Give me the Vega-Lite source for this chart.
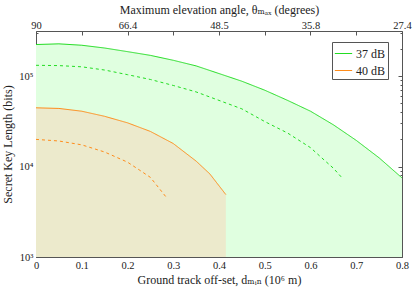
{
  "$schema": "https://vega.github.io/schema/vega-lite/v6.json",
  "width": 366,
  "height": 226,
  "autosize": "none",
  "padding": {"left": 36, "top": 31, "right": 13, "bottom": 36},
  "config": {
    "font": "Liberation Serif, DejaVu Serif, serif",
    "view": {"stroke": null},
    "axis": {
      "grid": false,
      "domainColor": "#555555",
      "tickColor": "#555555",
      "labelColor": "#222222",
      "titleColor": "#222222",
      "labelFont": "Liberation Serif, DejaVu Serif, serif",
      "titleFont": "Liberation Serif, DejaVu Serif, serif",
      "labelFontSize": 10.5,
      "titleFontSize": 12,
      "titleFontWeight": "normal"
    },
    "legend": {
      "labelFont": "Liberation Serif, DejaVu Serif, serif",
      "labelFontSize": 12,
      "labelColor": "#222222"
    }
  },
  "data": {
    "values": [
      {"snr": "37 dB", "kind": "solid", "x": 0, "y": 224000},
      {"snr": "37 dB", "kind": "solid", "x": 0.05, "y": 228000},
      {"snr": "37 dB", "kind": "solid", "x": 0.1, "y": 220000},
      {"snr": "37 dB", "kind": "solid", "x": 0.15, "y": 205000},
      {"snr": "37 dB", "kind": "solid", "x": 0.2, "y": 187000},
      {"snr": "37 dB", "kind": "solid", "x": 0.25, "y": 170000},
      {"snr": "37 dB", "kind": "solid", "x": 0.3, "y": 150000},
      {"snr": "37 dB", "kind": "solid", "x": 0.35, "y": 130000},
      {"snr": "37 dB", "kind": "solid", "x": 0.4, "y": 107000},
      {"snr": "37 dB", "kind": "solid", "x": 0.45, "y": 88000},
      {"snr": "37 dB", "kind": "solid", "x": 0.5, "y": 70000},
      {"snr": "37 dB", "kind": "solid", "x": 0.55, "y": 54000},
      {"snr": "37 dB", "kind": "solid", "x": 0.6, "y": 41000},
      {"snr": "37 dB", "kind": "solid", "x": 0.65, "y": 29000},
      {"snr": "37 dB", "kind": "solid", "x": 0.7, "y": 19500},
      {"snr": "37 dB", "kind": "solid", "x": 0.75, "y": 12500},
      {"snr": "37 dB", "kind": "solid", "x": 0.8, "y": 7500},
      {"snr": "37 dB", "kind": "dashed", "x": 0, "y": 132000},
      {"snr": "37 dB", "kind": "dashed", "x": 0.05, "y": 131000},
      {"snr": "37 dB", "kind": "dashed", "x": 0.1, "y": 127000},
      {"snr": "37 dB", "kind": "dashed", "x": 0.15, "y": 117000},
      {"snr": "37 dB", "kind": "dashed", "x": 0.2, "y": 104000},
      {"snr": "37 dB", "kind": "dashed", "x": 0.25, "y": 92000},
      {"snr": "37 dB", "kind": "dashed", "x": 0.3, "y": 79000},
      {"snr": "37 dB", "kind": "dashed", "x": 0.35, "y": 67000},
      {"snr": "37 dB", "kind": "dashed", "x": 0.4, "y": 54000},
      {"snr": "37 dB", "kind": "dashed", "x": 0.45, "y": 43500},
      {"snr": "37 dB", "kind": "dashed", "x": 0.5, "y": 31500},
      {"snr": "37 dB", "kind": "dashed", "x": 0.55, "y": 23500},
      {"snr": "37 dB", "kind": "dashed", "x": 0.6, "y": 16200},
      {"snr": "37 dB", "kind": "dashed", "x": 0.63, "y": 11800},
      {"snr": "37 dB", "kind": "dashed", "x": 0.65, "y": 9600},
      {"snr": "37 dB", "kind": "dashed", "x": 0.668, "y": 7600},
      {"snr": "40 dB", "kind": "solid", "x": 0, "y": 44700},
      {"snr": "40 dB", "kind": "solid", "x": 0.05, "y": 44000},
      {"snr": "40 dB", "kind": "solid", "x": 0.1, "y": 41000},
      {"snr": "40 dB", "kind": "solid", "x": 0.15, "y": 36000},
      {"snr": "40 dB", "kind": "solid", "x": 0.2, "y": 30500},
      {"snr": "40 dB", "kind": "solid", "x": 0.25, "y": 24500},
      {"snr": "40 dB", "kind": "solid", "x": 0.3, "y": 18000},
      {"snr": "40 dB", "kind": "solid", "x": 0.35, "y": 11500},
      {"snr": "40 dB", "kind": "solid", "x": 0.38, "y": 8300},
      {"snr": "40 dB", "kind": "solid", "x": 0.415, "y": 4900},
      {"snr": "40 dB", "kind": "dashed", "x": 0, "y": 20000},
      {"snr": "40 dB", "kind": "dashed", "x": 0.05, "y": 19200},
      {"snr": "40 dB", "kind": "dashed", "x": 0.1, "y": 17400},
      {"snr": "40 dB", "kind": "dashed", "x": 0.15, "y": 14500},
      {"snr": "40 dB", "kind": "dashed", "x": 0.2, "y": 11200},
      {"snr": "40 dB", "kind": "dashed", "x": 0.227, "y": 9100},
      {"snr": "40 dB", "kind": "dashed", "x": 0.25, "y": 7600},
      {"snr": "40 dB", "kind": "dashed", "x": 0.286, "y": 4500}
    ]
  },
  "layer": [
    {
      "layer": [
        {
          "transform": [{"filter": "datum.snr == '37 dB' && datum.kind == 'solid'"}],
          "mark": {"type": "area", "color": "#e0ffe0", "opacity": 1},
          "encoding": {
            "x": {
              "field": "x", "type": "quantitative",
              "scale": {"domain": [0, 0.8], "nice": false},
              "axis": {
                "orient": "bottom",
                "title": "Ground track off-set, dₘᵢₙ (10⁶ m)",
                "values": [0, 0.05, 0.1, 0.15, 0.2, 0.25, 0.3, 0.35, 0.4, 0.45, 0.5, 0.55, 0.6, 0.65, 0.7, 0.75, 0.8],
                "labelExpr": "abs(datum.value*10 - round(datum.value*10)) < 0.01 ? (datum.value == 0 ? '0' : format(datum.value, '.1f')) : ''",
                "tickSize": {"condition": {"test": "abs(datum.value*10 - round(datum.value*10)) < 0.01", "value": -4}, "value": -2},
                "labelPadding": 7,
                "titlePadding": 4,
                "labelFlush": false
              }
            },
            "y": {
              "field": "y", "type": "quantitative",
              "scale": {"type": "log", "domain": [1000, 316228], "nice": false},
              "axis": {
                "orient": "left",
                "title": "Secret Key Length (bits)",
                "values": [1000, 2000, 3000, 4000, 5000, 6000, 7000, 8000, 9000, 10000, 20000, 30000, 40000, 50000, 60000, 70000, 80000, 90000, 100000, 200000, 300000],
                "labelExpr": "datum.value == 1000 ? '10³' : datum.value == 10000 ? '10⁴' : datum.value == 100000 ? '10⁵' : ''",
                "tickSize": {"condition": {"test": "datum.value == 1000 || datum.value == 10000 || datum.value == 100000", "value": -4}, "value": -2},
                "labelPadding": 7,
                "titlePadding": 4,
                "labelFlush": false
              }
            },
            "y2": {"datum": 1000}
          }
        },
        {
          "transform": [{"filter": "datum.snr == '40 dB' && datum.kind == 'solid'"}],
          "mark": {"type": "area", "color": "#eceacc", "opacity": 1},
          "encoding": {
            "x": {"field": "x", "type": "quantitative"},
            "y": {"field": "y", "type": "quantitative"},
            "y2": {"datum": 1000}
          }
        },
        {
          "mark": {"type": "line", "strokeWidth": 1},
          "encoding": {
            "x": {"field": "x", "type": "quantitative"},
            "y": {"field": "y", "type": "quantitative"},
            "color": {
              "field": "snr", "type": "nominal",
              "scale": {"domain": ["37 dB", "40 dB"], "range": ["#22dd22", "#ff8c1a"]},
              "legend": {
                "title": null,
                "orient": "none",
                "legendX": 296,
                "legendY": 11,
                "symbolType": "stroke",
                "symbolSize": 300,
                "symbolStrokeWidth": 1,
                "strokeColor": "#555555",
                "fillColor": "white",
                "padding": 2,
                "rowPadding": 1,
                "labelOffset": 3
              }
            },
            "strokeDash": {
              "field": "kind", "type": "nominal",
              "scale": {"domain": ["solid", "dashed"], "range": [[1, 0], [3, 3]]},
              "legend": null
            },
            "detail": {"field": "kind"}
          }
        }
      ]
    },
    {
      "mark": {"type": "line", "opacity": 0},
      "encoding": {
        "x": {
          "field": "x", "type": "quantitative",
          "axis": {
            "orient": "top",
            "title": "Maximum elevation angle, θₘₐₓ (degrees)",
            "values": [0, 0.1, 0.2, 0.3, 0.4, 0.5, 0.6, 0.7, 0.8],
            "labelExpr": "datum.value == 0 ? '90' : abs(datum.value - 0.2) < 0.001 ? '66.4' : abs(datum.value - 0.4) < 0.001 ? '48.5' : abs(datum.value - 0.6) < 0.001 ? '35.8' : abs(datum.value - 0.8) < 0.001 ? '27.4' : ''",
            "tickSize": -4,
            "labelPadding": 5,
            "titlePadding": 4,
            "labelFlush": false
          }
        },
        "y": {
          "field": "y", "type": "quantitative",
          "axis": {
            "orient": "right",
            "title": null,
            "values": [1000, 2000, 3000, 4000, 5000, 6000, 7000, 8000, 9000, 10000, 20000, 30000, 40000, 50000, 60000, 70000, 80000, 90000, 100000, 200000, 300000],
            "labels": false,
            "tickSize": {"condition": {"test": "datum.value == 1000 || datum.value == 10000 || datum.value == 100000", "value": -4}, "value": -2}
          }
        },
        "detail": {"field": "kind"},
        "color": {"field": "snr", "type": "nominal", "legend": null}
      }
    }
  ],
  "resolve": {"axis": {"x": "independent", "y": "independent"}}
}
